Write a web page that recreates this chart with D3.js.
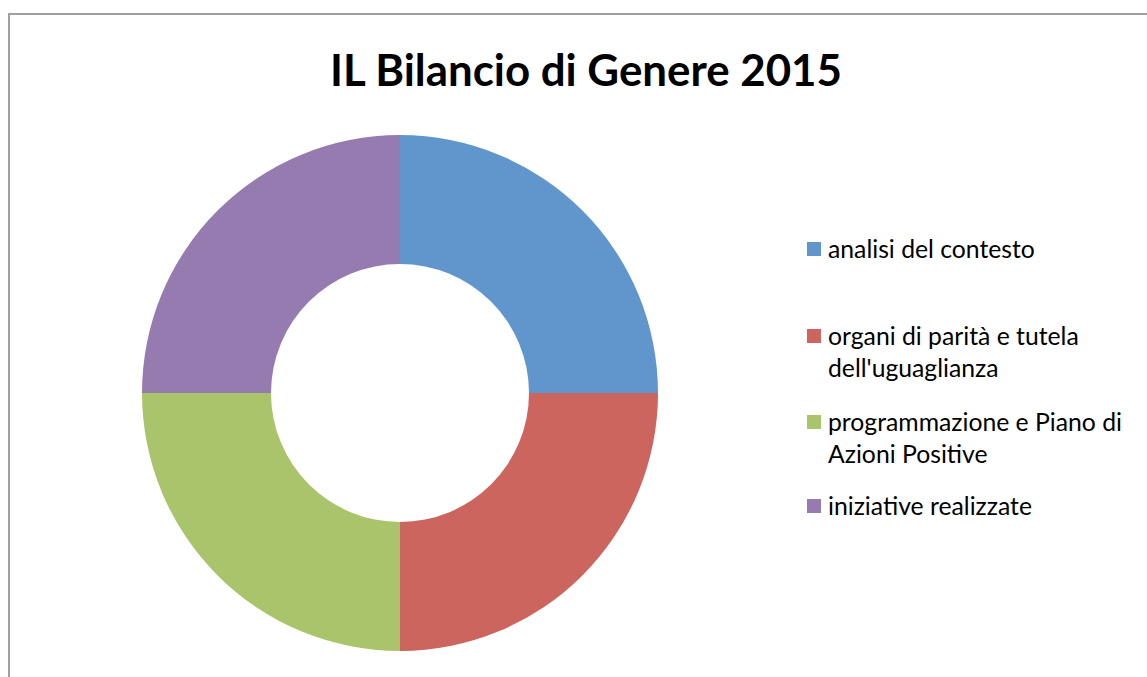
<!DOCTYPE html>
<html>
<head>
<meta charset="utf-8">
<script src="https://cdnjs.cloudflare.com/ajax/libs/d3/7.8.5/d3.min.js"></script>
<style>
  html, body { margin: 0; padding: 0; background: #fff; }
  svg { display: block; }
</style>
</head>
<body>
<div id="chart"></div>
<script>
var title = "IL Bilancio di Genere 2015";
var categories = ["analisi del contesto", "organi di parità e tutela dell'uguaglianza", "programmazione e Piano di Azioni Positive", "iniziative realizzate"];
// legend lines as wrapped in the picture
var legendLines = [["analisi del contesto"], ["organi di parità e tutela", "dell'uguaglianza"], ["programmazione e Piano di", "Azioni Positive"], ["iniziative realizzate"]];
var values = [1, 1, 1, 1];
var colors = ["#6096cb", "#cc655e", "#aac46b", "#957bb0"];

var width = 1147, height = 677;
var fontFamily = "Lato, 'Open Sans', sans-serif";

var svg = d3.select("#chart")
  .append("svg")
    .attr("width", width)
    .attr("height", height);

// chart area border (only left and top edges visible)
svg.append("path")
  .attr("d", "M9,677 L9,14 L1147,14")
  .attr("fill", "none")
  .attr("stroke", "#a0a0a0")
  .attr("stroke-width", 2);

// title, sized to the width it has in the picture
var t = svg.append("text")
  .attr("x", 586)
  .attr("y", 86)
  .attr("text-anchor", "middle")
  .attr("font-family", fontFamily)
  .attr("font-weight", "bold")
  .attr("font-size", 40)
  .attr("fill", "#000")
  .text(title);
var tw = t.node().getComputedTextLength();
t.attr("font-size", 40 * 512 / tw);

// donut
var cx = 400, cy = 393, outerR = 258, innerR = 129;
var pie = d3.pie().sort(null).value(d => d);
var arc = d3.arc().innerRadius(innerR).outerRadius(outerR);

svg.append("g")
  .attr("transform", "translate(" + cx + "," + cy + ")")
  .selectAll("path")
  .data(pie(values))
  .enter()
  .append("path")
    .attr("d", arc)
    .attr("fill", (d, i) => colors[i]);

// legend
var legendX = 807, textX = 828, lineH = 32;
var legendY = [258, 345, 431, 515]; // first baseline of each item

var probe = svg.append("text")
  .attr("font-family", fontFamily)
  .attr("font-size", 20)
  .text(legendLines[0][0]);
var legendSize = 20 * 207 / probe.node().getComputedTextLength();
probe.remove();

var items = svg.append("g")
  .selectAll("g")
  .data(categories)
  .enter()
  .append("g");

items.append("rect")
  .attr("x", legendX)
  .attr("y", (d, i) => legendY[i] - 16)
  .attr("width", 14)
  .attr("height", 14)
  .attr("fill", (d, i) => colors[i]);

items.append("text")
  .attr("font-family", fontFamily)
  .attr("font-size", legendSize)
  .attr("fill", "#000")
  .each(function (d, i) {
    d3.select(this).selectAll("tspan")
      .data(legendLines[i])
      .enter()
      .append("tspan")
        .attr("x", textX)
        .attr("y", (l, j) => legendY[i] + j * lineH)
        .text(l => l);
  });
</script>
</body>
</html>
